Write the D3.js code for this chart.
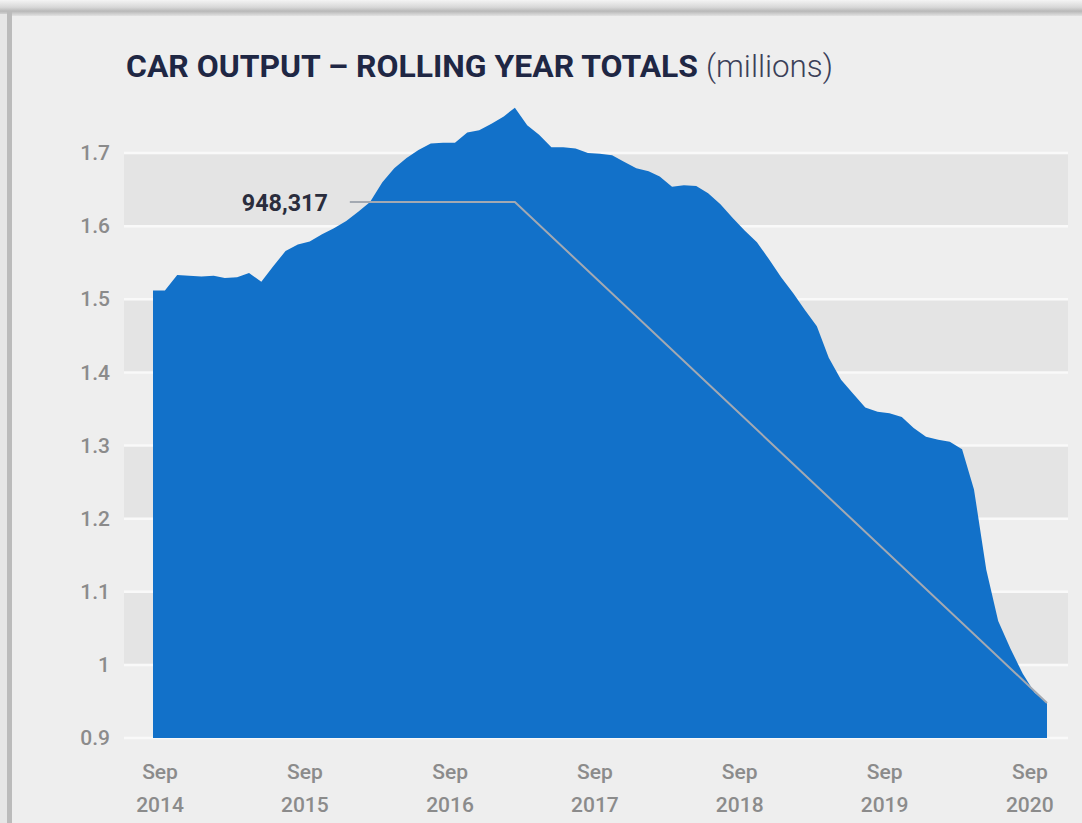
<!DOCTYPE html>
<html>
<head>
<meta charset="utf-8">
<script src="https://cdn.jsdelivr.net/npm/d3@7"></script>
<style>
  body { margin: 0; background: #efefef; }
  svg { display: block; font-family: Roboto, "DejaVu Sans", sans-serif; }
</style>
</head>
<body>
<script>
// rolling year totals, millions, monthly from Sep 2014
let startMonth = new Date(2014, 8, 1);
let values = [
  1.512, 1.512, 1.533, 1.532, 1.531, 1.532, 1.529, 1.530, 1.536, 1.524,
  1.545, 1.566, 1.575, 1.579, 1.589, 1.597, 1.607, 1.620, 1.633, 1.660,
  1.679, 1.693, 1.704, 1.713, 1.714, 1.714, 1.728, 1.731, 1.740, 1.750,
  1.762, 1.738, 1.725, 1.708, 1.708, 1.706, 1.700, 1.699, 1.697, 1.688,
  1.679, 1.675, 1.668, 1.654, 1.656, 1.655, 1.645, 1.630, 1.611, 1.594,
  1.578, 1.555, 1.530, 1.508, 1.486, 1.463, 1.420, 1.390, 1.371, 1.352,
  1.346, 1.344, 1.339, 1.324, 1.312, 1.308, 1.305, 1.295, 1.240, 1.130,
  1.060, 1.022, 0.988, 0.962, 0.948
];
let yTicks = [0.9, 1, 1.1, 1.2, 1.3, 1.4, 1.5, 1.6, 1.7];
let xTickYears = [2014, 2015, 2016, 2017, 2018, 2019, 2020];
let annotationText = "948,317";
let annotationLevel = 1.633;

let months = d3.timeMonth.range(startMonth, d3.timeMonth.offset(startMonth, values.length));
let data = values.map(function(v, i) { return {date: months[i], value: v}; });

let width = 1082;
let height = 823;

let svg = d3.select("body").append("svg")
  .attr("width", width).attr("height", height);

// frame / shadow
svg.append("rect").attr("width", width).attr("height", height).attr("fill", "#eeeeee");
let defs = svg.append("defs");
let grad = defs.append("linearGradient").attr("id", "topShade").attr("x1", 0).attr("x2", 0).attr("y1", 0).attr("y2", 1);
grad.append("stop").attr("offset", "0%").attr("stop-color", "#f4f4f4");
grad.append("stop").attr("offset", "45%").attr("stop-color", "#d8d8d8");
grad.append("stop").attr("offset", "70%").attr("stop-color", "#b8b8b8");
grad.append("stop").attr("offset", "100%").attr("stop-color", "#e2e2e2");
svg.append("rect").attr("x", 0).attr("y", 0).attr("width", width).attr("height", 16).attr("fill", "url(#topShade)");
svg.append("rect").attr("x", 0).attr("y", 14).attr("width", 7).attr("height", height - 14).attr("fill", "#e6e6e6");
svg.append("rect").attr("x", 7).attr("y", 12).attr("width", 5).attr("height", height - 12).attr("fill", "#bbbbbb");

// scales
let xScale = d3.scaleTime()
  .domain([data[0].date, data[data.length - 1].date])
  .range([153, 1047]);
let yScale = d3.scaleLinear().domain([0.9, 1.7]).range([738, 153]);

// alternating bands
let bandLeft = 124;
let bandRight = 1068;
let bandStarts = yTicks.filter(function(d, i) { return i < yTicks.length - 1 && i % 2 == 1; });
svg.append("g").selectAll("rect")
  .data(bandStarts)
  .enter()
  .append("rect")
    .attr("x", bandLeft)
    .attr("y", function(d) { return yScale(d + 0.1); })
    .attr("width", bandRight - bandLeft)
    .attr("height", function(d) { return yScale(d) - yScale(d + 0.1); })
    .attr("fill", "#e4e4e4");

// gridlines
svg.append("g").selectAll("line")
  .data(yTicks)
  .enter()
  .append("line")
    .attr("x1", bandLeft).attr("x2", bandRight)
    .attr("y1", function(d) { return yScale(d); })
    .attr("y2", function(d) { return yScale(d); })
    .attr("stroke", "#f9f9f9")
    .attr("stroke-width", 2.5);

// area
let area = d3.area()
  .x(function(d) { return xScale(d.date); })
  .y0(yScale(0.9))
  .y1(function(d) { return yScale(d.value); });
svg.append("path")
  .datum(data)
  .attr("d", area)
  .attr("fill", "#1271c9");

// y axis labels
let yAxis = d3.axisLeft(yScale)
  .tickValues(yTicks)
  .tickSize(0)
  .tickPadding(0)
  .tickFormat(function(d) { return d == 1 ? "1" : d3.format(".1f")(d); });
let yg = svg.append("g").attr("transform", "translate(110,0)").call(yAxis);
yg.select(".domain").remove();
yg.selectAll("text")
  .style("font-size", "21px")
  .style("font-weight", "500")
  .style("font-family", "Roboto, sans-serif")
  .attr("fill", "#8b8b8b");

// x axis labels
let xTicks = xTickYears.map(function(y) { return new Date(y, 8, 1); });
let xg = svg.append("g").selectAll("g")
  .data(xTicks)
  .enter()
  .append("g")
    .attr("transform", function(d) { return "translate(" + (xScale(d) + 7) + ",0)"; });
xg.append("text")
  .attr("y", 779)
  .attr("text-anchor", "middle")
  .style("font-size", "21px")
  .style("font-weight", "500")
  .attr("fill", "#8b8b8b")
  .text("Sep");
xg.append("text")
  .attr("y", 812)
  .attr("text-anchor", "middle")
  .style("font-size", "21px")
  .style("font-weight", "500")
  .attr("fill", "#8b8b8b")
  .text(function(d) { return d.getFullYear(); });

// annotation leader line
let last = data[data.length - 1];
let leader = [
  {date: new Date(2016, 0, 10), value: annotationLevel},
  {date: new Date(2017, 2, 1), value: annotationLevel},
  last
];
let line = d3.line()
  .x(function(d) { return xScale(d.date); })
  .y(function(d) { return yScale(d.value); });
svg.append("path")
  .datum(leader)
  .attr("d", line)
  .attr("fill", "none")
  .attr("stroke", "#a3a9b2")
  .attr("stroke-width", 2);

svg.append("text")
  .attr("x", xScale(leader[0].date) - 22)
  .attr("y", yScale(annotationLevel) + 9)
  .attr("text-anchor", "end")
  .attr("textLength", 86)
  .attr("lengthAdjust", "spacingAndGlyphs")
  .style("font-size", "24px")
  .style("font-weight", "bold")
  .attr("fill", "#2a2d3d")
  .text(annotationText);

// title
svg.append("text")
  .attr("x", 126)
  .attr("y", 77)
  .attr("textLength", 572)
  .attr("lengthAdjust", "spacingAndGlyphs")
  .style("font-size", "32px")
  .style("font-weight", "bold")
  .attr("fill", "#1f2744")
  .text("CAR OUTPUT \u2013 ROLLING YEAR TOTALS");
svg.append("text")
  .attr("x", 706)
  .attr("y", 77)
  .attr("textLength", 127)
  .attr("lengthAdjust", "spacingAndGlyphs")
  .style("font-size", "31px")
  .style("font-weight", "300")
  .attr("fill", "#3b4058")
  .text("(millions)");
</script>
</body>
</html>
